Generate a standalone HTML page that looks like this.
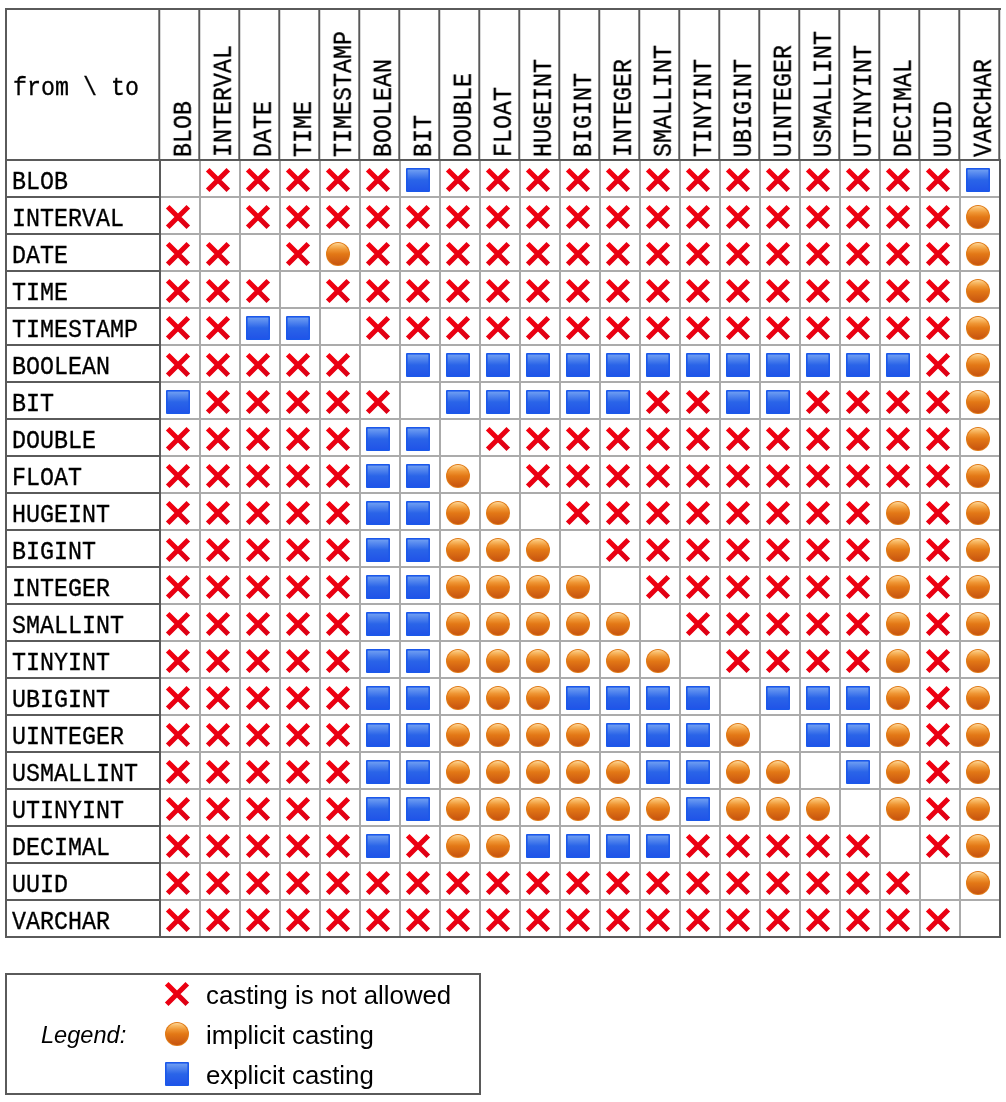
<!DOCTYPE html>
<html><head><meta charset="utf-8">
<style>
html,body{margin:0;padding:0;background:#fff;}
body{width:1006px;height:1102px;position:relative;overflow:hidden;}
.t{position:absolute;font-family:"Liberation Mono",monospace;font-size:23.33px;line-height:1;color:#000;white-space:pre;transform-origin:0 0;will-change:transform;-webkit-text-stroke:0.3px #000;}
.l{position:absolute;font-family:"Liberation Sans",sans-serif;font-size:25.8px;line-height:1;color:#000;white-space:pre;will-change:transform;}
svg{position:absolute;left:0;top:0;}
</style></head><body>

<svg width="1006" height="1102" viewBox="0 0 1006 1102">
<defs>
<linearGradient id="gx" x1="0" y1="0" x2="1" y2="1">
<stop offset="0" stop-color="#f6000f"/><stop offset="1" stop-color="#dc0015"/></linearGradient>
<linearGradient id="go" x1="0" y1="0" x2="0" y2="1">
<stop offset="0" stop-color="#fcd79e"/><stop offset="0.1" stop-color="#f9bd6a"/><stop offset="0.3" stop-color="#ef9533"/><stop offset="0.5" stop-color="#e37816"/><stop offset="1" stop-color="#c75410"/></linearGradient>
<linearGradient id="gs" x1="0" y1="0" x2="0" y2="1">
<stop offset="0" stop-color="#6f9ef2"/><stop offset="0.5" stop-color="#2a64e8"/><stop offset="1" stop-color="#2154e8"/></linearGradient>
<g id="X"><path d="M1.7 1.7L22.3 22.3M22.3 1.7L1.7 22.3" stroke="url(#gx)" stroke-width="5.1" fill="none"/></g>
<g id="O"><circle cx="12" cy="12" r="12" fill="#e07a16"/><circle cx="12" cy="12" r="10.9" fill="url(#go)"/></g>
<g id="S"><rect x="0" y="0" width="24" height="24" rx="1" fill="#1b58ea"/><rect x="1.6" y="1.6" width="20.8" height="20.8" fill="url(#gs)"/></g>
</defs>
<rect x="160" y="196" width="840" height="2" fill="#ababab"/>
<rect x="160" y="233" width="840" height="2" fill="#ababab"/>
<rect x="160" y="270" width="840" height="2" fill="#ababab"/>
<rect x="160" y="307" width="840" height="2" fill="#ababab"/>
<rect x="160" y="344" width="840" height="2" fill="#ababab"/>
<rect x="160" y="381" width="840" height="2" fill="#ababab"/>
<rect x="160" y="418" width="840" height="2" fill="#ababab"/>
<rect x="160" y="455" width="840" height="2" fill="#ababab"/>
<rect x="160" y="492" width="840" height="2" fill="#ababab"/>
<rect x="160" y="529" width="840" height="2" fill="#ababab"/>
<rect x="160" y="566" width="840" height="2" fill="#ababab"/>
<rect x="160" y="603" width="840" height="2" fill="#ababab"/>
<rect x="160" y="640" width="840" height="2" fill="#ababab"/>
<rect x="160" y="677" width="840" height="2" fill="#ababab"/>
<rect x="160" y="714" width="840" height="2" fill="#ababab"/>
<rect x="160" y="751" width="840" height="2" fill="#ababab"/>
<rect x="160" y="788" width="840" height="2" fill="#ababab"/>
<rect x="160" y="825" width="840" height="2" fill="#ababab"/>
<rect x="160" y="862" width="840" height="2" fill="#ababab"/>
<rect x="160" y="899" width="840" height="2" fill="#ababab"/>
<rect x="199" y="160" width="2" height="777" fill="#ababab"/>
<rect x="239" y="160" width="2" height="777" fill="#ababab"/>
<rect x="279" y="160" width="2" height="777" fill="#ababab"/>
<rect x="319" y="160" width="2" height="777" fill="#ababab"/>
<rect x="359" y="160" width="2" height="777" fill="#ababab"/>
<rect x="399" y="160" width="2" height="777" fill="#ababab"/>
<rect x="439" y="160" width="2" height="777" fill="#ababab"/>
<rect x="479" y="160" width="2" height="777" fill="#ababab"/>
<rect x="519" y="160" width="2" height="777" fill="#ababab"/>
<rect x="559" y="160" width="2" height="777" fill="#ababab"/>
<rect x="599" y="160" width="2" height="777" fill="#ababab"/>
<rect x="639" y="160" width="2" height="777" fill="#ababab"/>
<rect x="679" y="160" width="2" height="777" fill="#ababab"/>
<rect x="719" y="160" width="2" height="777" fill="#ababab"/>
<rect x="759" y="160" width="2" height="777" fill="#ababab"/>
<rect x="799" y="160" width="2" height="777" fill="#ababab"/>
<rect x="839" y="160" width="2" height="777" fill="#ababab"/>
<rect x="879" y="160" width="2" height="777" fill="#ababab"/>
<rect x="919" y="160" width="2" height="777" fill="#ababab"/>
<rect x="959" y="160" width="2" height="777" fill="#ababab"/>
<rect x="5" y="159" width="996" height="2" fill="#5a5a5a"/>
<rect x="5" y="196" width="155" height="2" fill="#5a5a5a"/>
<rect x="5" y="233" width="155" height="2" fill="#5a5a5a"/>
<rect x="5" y="270" width="155" height="2" fill="#5a5a5a"/>
<rect x="5" y="307" width="155" height="2" fill="#5a5a5a"/>
<rect x="5" y="344" width="155" height="2" fill="#5a5a5a"/>
<rect x="5" y="381" width="155" height="2" fill="#5a5a5a"/>
<rect x="5" y="418" width="155" height="2" fill="#5a5a5a"/>
<rect x="5" y="455" width="155" height="2" fill="#5a5a5a"/>
<rect x="5" y="492" width="155" height="2" fill="#5a5a5a"/>
<rect x="5" y="529" width="155" height="2" fill="#5a5a5a"/>
<rect x="5" y="566" width="155" height="2" fill="#5a5a5a"/>
<rect x="5" y="603" width="155" height="2" fill="#5a5a5a"/>
<rect x="5" y="640" width="155" height="2" fill="#5a5a5a"/>
<rect x="5" y="677" width="155" height="2" fill="#5a5a5a"/>
<rect x="5" y="714" width="155" height="2" fill="#5a5a5a"/>
<rect x="5" y="751" width="155" height="2" fill="#5a5a5a"/>
<rect x="5" y="788" width="155" height="2" fill="#5a5a5a"/>
<rect x="5" y="825" width="155" height="2" fill="#5a5a5a"/>
<rect x="5" y="862" width="155" height="2" fill="#5a5a5a"/>
<rect x="5" y="899" width="155" height="2" fill="#5a5a5a"/>
<rect x="5" y="936" width="996" height="2" fill="#5a5a5a"/>
<rect x="158" y="10" width="1" height="149" fill="#8a8a8a"/>
<rect x="159" y="10" width="1" height="149" fill="#585858"/>
<rect x="160" y="10" width="1" height="149" fill="#d8d8d8"/>
<rect x="198" y="10" width="1" height="149" fill="#8a8a8a"/>
<rect x="199" y="10" width="1" height="149" fill="#585858"/>
<rect x="200" y="10" width="1" height="149" fill="#d8d8d8"/>
<rect x="238" y="10" width="1" height="149" fill="#8a8a8a"/>
<rect x="239" y="10" width="1" height="149" fill="#585858"/>
<rect x="240" y="10" width="1" height="149" fill="#d8d8d8"/>
<rect x="278" y="10" width="1" height="149" fill="#8a8a8a"/>
<rect x="279" y="10" width="1" height="149" fill="#585858"/>
<rect x="280" y="10" width="1" height="149" fill="#d8d8d8"/>
<rect x="318" y="10" width="1" height="149" fill="#8a8a8a"/>
<rect x="319" y="10" width="1" height="149" fill="#585858"/>
<rect x="320" y="10" width="1" height="149" fill="#d8d8d8"/>
<rect x="358" y="10" width="1" height="149" fill="#8a8a8a"/>
<rect x="359" y="10" width="1" height="149" fill="#585858"/>
<rect x="360" y="10" width="1" height="149" fill="#d8d8d8"/>
<rect x="398" y="10" width="1" height="149" fill="#8a8a8a"/>
<rect x="399" y="10" width="1" height="149" fill="#585858"/>
<rect x="400" y="10" width="1" height="149" fill="#d8d8d8"/>
<rect x="438" y="10" width="1" height="149" fill="#8a8a8a"/>
<rect x="439" y="10" width="1" height="149" fill="#585858"/>
<rect x="440" y="10" width="1" height="149" fill="#d8d8d8"/>
<rect x="478" y="10" width="1" height="149" fill="#8a8a8a"/>
<rect x="479" y="10" width="1" height="149" fill="#585858"/>
<rect x="480" y="10" width="1" height="149" fill="#d8d8d8"/>
<rect x="518" y="10" width="1" height="149" fill="#8a8a8a"/>
<rect x="519" y="10" width="1" height="149" fill="#585858"/>
<rect x="520" y="10" width="1" height="149" fill="#d8d8d8"/>
<rect x="558" y="10" width="1" height="149" fill="#8a8a8a"/>
<rect x="559" y="10" width="1" height="149" fill="#585858"/>
<rect x="560" y="10" width="1" height="149" fill="#d8d8d8"/>
<rect x="598" y="10" width="1" height="149" fill="#8a8a8a"/>
<rect x="599" y="10" width="1" height="149" fill="#585858"/>
<rect x="600" y="10" width="1" height="149" fill="#d8d8d8"/>
<rect x="638" y="10" width="1" height="149" fill="#8a8a8a"/>
<rect x="639" y="10" width="1" height="149" fill="#585858"/>
<rect x="640" y="10" width="1" height="149" fill="#d8d8d8"/>
<rect x="678" y="10" width="1" height="149" fill="#8a8a8a"/>
<rect x="679" y="10" width="1" height="149" fill="#585858"/>
<rect x="680" y="10" width="1" height="149" fill="#d8d8d8"/>
<rect x="718" y="10" width="1" height="149" fill="#8a8a8a"/>
<rect x="719" y="10" width="1" height="149" fill="#585858"/>
<rect x="720" y="10" width="1" height="149" fill="#d8d8d8"/>
<rect x="758" y="10" width="1" height="149" fill="#8a8a8a"/>
<rect x="759" y="10" width="1" height="149" fill="#585858"/>
<rect x="760" y="10" width="1" height="149" fill="#d8d8d8"/>
<rect x="798" y="10" width="1" height="149" fill="#8a8a8a"/>
<rect x="799" y="10" width="1" height="149" fill="#585858"/>
<rect x="800" y="10" width="1" height="149" fill="#d8d8d8"/>
<rect x="838" y="10" width="1" height="149" fill="#8a8a8a"/>
<rect x="839" y="10" width="1" height="149" fill="#585858"/>
<rect x="840" y="10" width="1" height="149" fill="#d8d8d8"/>
<rect x="878" y="10" width="1" height="149" fill="#8a8a8a"/>
<rect x="879" y="10" width="1" height="149" fill="#585858"/>
<rect x="880" y="10" width="1" height="149" fill="#d8d8d8"/>
<rect x="918" y="10" width="1" height="149" fill="#8a8a8a"/>
<rect x="919" y="10" width="1" height="149" fill="#585858"/>
<rect x="920" y="10" width="1" height="149" fill="#d8d8d8"/>
<rect x="958" y="10" width="1" height="149" fill="#8a8a8a"/>
<rect x="959" y="10" width="1" height="149" fill="#585858"/>
<rect x="960" y="10" width="1" height="149" fill="#d8d8d8"/>
<rect x="998" y="10" width="1" height="149" fill="#8a8a8a"/>
<rect x="999" y="10" width="1" height="149" fill="#585858"/>
<rect x="1000" y="10" width="1" height="149" fill="#d8d8d8"/>
<rect x="159" y="159" width="2" height="779" fill="#5a5a5a"/>
<rect x="999" y="159" width="2" height="779" fill="#5a5a5a"/>
<rect x="5" y="8" width="996" height="2" fill="#5a5a5a"/>
<rect x="5" y="8" width="2" height="930" fill="#5a5a5a"/>
<use href="#X" x="206" y="168"/>
<use href="#X" x="246" y="168"/>
<use href="#X" x="286" y="168"/>
<use href="#X" x="326" y="168"/>
<use href="#X" x="366" y="168"/>
<use href="#S" x="406" y="168"/>
<use href="#X" x="446" y="168"/>
<use href="#X" x="486" y="168"/>
<use href="#X" x="526" y="168"/>
<use href="#X" x="566" y="168"/>
<use href="#X" x="606" y="168"/>
<use href="#X" x="646" y="168"/>
<use href="#X" x="686" y="168"/>
<use href="#X" x="726" y="168"/>
<use href="#X" x="766" y="168"/>
<use href="#X" x="806" y="168"/>
<use href="#X" x="846" y="168"/>
<use href="#X" x="886" y="168"/>
<use href="#X" x="926" y="168"/>
<use href="#S" x="966" y="168"/>
<use href="#X" x="166" y="205"/>
<use href="#X" x="246" y="205"/>
<use href="#X" x="286" y="205"/>
<use href="#X" x="326" y="205"/>
<use href="#X" x="366" y="205"/>
<use href="#X" x="406" y="205"/>
<use href="#X" x="446" y="205"/>
<use href="#X" x="486" y="205"/>
<use href="#X" x="526" y="205"/>
<use href="#X" x="566" y="205"/>
<use href="#X" x="606" y="205"/>
<use href="#X" x="646" y="205"/>
<use href="#X" x="686" y="205"/>
<use href="#X" x="726" y="205"/>
<use href="#X" x="766" y="205"/>
<use href="#X" x="806" y="205"/>
<use href="#X" x="846" y="205"/>
<use href="#X" x="886" y="205"/>
<use href="#X" x="926" y="205"/>
<use href="#O" x="966" y="205"/>
<use href="#X" x="166" y="242"/>
<use href="#X" x="206" y="242"/>
<use href="#X" x="286" y="242"/>
<use href="#O" x="326" y="242"/>
<use href="#X" x="366" y="242"/>
<use href="#X" x="406" y="242"/>
<use href="#X" x="446" y="242"/>
<use href="#X" x="486" y="242"/>
<use href="#X" x="526" y="242"/>
<use href="#X" x="566" y="242"/>
<use href="#X" x="606" y="242"/>
<use href="#X" x="646" y="242"/>
<use href="#X" x="686" y="242"/>
<use href="#X" x="726" y="242"/>
<use href="#X" x="766" y="242"/>
<use href="#X" x="806" y="242"/>
<use href="#X" x="846" y="242"/>
<use href="#X" x="886" y="242"/>
<use href="#X" x="926" y="242"/>
<use href="#O" x="966" y="242"/>
<use href="#X" x="166" y="279"/>
<use href="#X" x="206" y="279"/>
<use href="#X" x="246" y="279"/>
<use href="#X" x="326" y="279"/>
<use href="#X" x="366" y="279"/>
<use href="#X" x="406" y="279"/>
<use href="#X" x="446" y="279"/>
<use href="#X" x="486" y="279"/>
<use href="#X" x="526" y="279"/>
<use href="#X" x="566" y="279"/>
<use href="#X" x="606" y="279"/>
<use href="#X" x="646" y="279"/>
<use href="#X" x="686" y="279"/>
<use href="#X" x="726" y="279"/>
<use href="#X" x="766" y="279"/>
<use href="#X" x="806" y="279"/>
<use href="#X" x="846" y="279"/>
<use href="#X" x="886" y="279"/>
<use href="#X" x="926" y="279"/>
<use href="#O" x="966" y="279"/>
<use href="#X" x="166" y="316"/>
<use href="#X" x="206" y="316"/>
<use href="#S" x="246" y="316"/>
<use href="#S" x="286" y="316"/>
<use href="#X" x="366" y="316"/>
<use href="#X" x="406" y="316"/>
<use href="#X" x="446" y="316"/>
<use href="#X" x="486" y="316"/>
<use href="#X" x="526" y="316"/>
<use href="#X" x="566" y="316"/>
<use href="#X" x="606" y="316"/>
<use href="#X" x="646" y="316"/>
<use href="#X" x="686" y="316"/>
<use href="#X" x="726" y="316"/>
<use href="#X" x="766" y="316"/>
<use href="#X" x="806" y="316"/>
<use href="#X" x="846" y="316"/>
<use href="#X" x="886" y="316"/>
<use href="#X" x="926" y="316"/>
<use href="#O" x="966" y="316"/>
<use href="#X" x="166" y="353"/>
<use href="#X" x="206" y="353"/>
<use href="#X" x="246" y="353"/>
<use href="#X" x="286" y="353"/>
<use href="#X" x="326" y="353"/>
<use href="#S" x="406" y="353"/>
<use href="#S" x="446" y="353"/>
<use href="#S" x="486" y="353"/>
<use href="#S" x="526" y="353"/>
<use href="#S" x="566" y="353"/>
<use href="#S" x="606" y="353"/>
<use href="#S" x="646" y="353"/>
<use href="#S" x="686" y="353"/>
<use href="#S" x="726" y="353"/>
<use href="#S" x="766" y="353"/>
<use href="#S" x="806" y="353"/>
<use href="#S" x="846" y="353"/>
<use href="#S" x="886" y="353"/>
<use href="#X" x="926" y="353"/>
<use href="#O" x="966" y="353"/>
<use href="#S" x="166" y="390"/>
<use href="#X" x="206" y="390"/>
<use href="#X" x="246" y="390"/>
<use href="#X" x="286" y="390"/>
<use href="#X" x="326" y="390"/>
<use href="#X" x="366" y="390"/>
<use href="#S" x="446" y="390"/>
<use href="#S" x="486" y="390"/>
<use href="#S" x="526" y="390"/>
<use href="#S" x="566" y="390"/>
<use href="#S" x="606" y="390"/>
<use href="#X" x="646" y="390"/>
<use href="#X" x="686" y="390"/>
<use href="#S" x="726" y="390"/>
<use href="#S" x="766" y="390"/>
<use href="#X" x="806" y="390"/>
<use href="#X" x="846" y="390"/>
<use href="#X" x="886" y="390"/>
<use href="#X" x="926" y="390"/>
<use href="#O" x="966" y="390"/>
<use href="#X" x="166" y="427"/>
<use href="#X" x="206" y="427"/>
<use href="#X" x="246" y="427"/>
<use href="#X" x="286" y="427"/>
<use href="#X" x="326" y="427"/>
<use href="#S" x="366" y="427"/>
<use href="#S" x="406" y="427"/>
<use href="#X" x="486" y="427"/>
<use href="#X" x="526" y="427"/>
<use href="#X" x="566" y="427"/>
<use href="#X" x="606" y="427"/>
<use href="#X" x="646" y="427"/>
<use href="#X" x="686" y="427"/>
<use href="#X" x="726" y="427"/>
<use href="#X" x="766" y="427"/>
<use href="#X" x="806" y="427"/>
<use href="#X" x="846" y="427"/>
<use href="#X" x="886" y="427"/>
<use href="#X" x="926" y="427"/>
<use href="#O" x="966" y="427"/>
<use href="#X" x="166" y="464"/>
<use href="#X" x="206" y="464"/>
<use href="#X" x="246" y="464"/>
<use href="#X" x="286" y="464"/>
<use href="#X" x="326" y="464"/>
<use href="#S" x="366" y="464"/>
<use href="#S" x="406" y="464"/>
<use href="#O" x="446" y="464"/>
<use href="#X" x="526" y="464"/>
<use href="#X" x="566" y="464"/>
<use href="#X" x="606" y="464"/>
<use href="#X" x="646" y="464"/>
<use href="#X" x="686" y="464"/>
<use href="#X" x="726" y="464"/>
<use href="#X" x="766" y="464"/>
<use href="#X" x="806" y="464"/>
<use href="#X" x="846" y="464"/>
<use href="#X" x="886" y="464"/>
<use href="#X" x="926" y="464"/>
<use href="#O" x="966" y="464"/>
<use href="#X" x="166" y="501"/>
<use href="#X" x="206" y="501"/>
<use href="#X" x="246" y="501"/>
<use href="#X" x="286" y="501"/>
<use href="#X" x="326" y="501"/>
<use href="#S" x="366" y="501"/>
<use href="#S" x="406" y="501"/>
<use href="#O" x="446" y="501"/>
<use href="#O" x="486" y="501"/>
<use href="#X" x="566" y="501"/>
<use href="#X" x="606" y="501"/>
<use href="#X" x="646" y="501"/>
<use href="#X" x="686" y="501"/>
<use href="#X" x="726" y="501"/>
<use href="#X" x="766" y="501"/>
<use href="#X" x="806" y="501"/>
<use href="#X" x="846" y="501"/>
<use href="#O" x="886" y="501"/>
<use href="#X" x="926" y="501"/>
<use href="#O" x="966" y="501"/>
<use href="#X" x="166" y="538"/>
<use href="#X" x="206" y="538"/>
<use href="#X" x="246" y="538"/>
<use href="#X" x="286" y="538"/>
<use href="#X" x="326" y="538"/>
<use href="#S" x="366" y="538"/>
<use href="#S" x="406" y="538"/>
<use href="#O" x="446" y="538"/>
<use href="#O" x="486" y="538"/>
<use href="#O" x="526" y="538"/>
<use href="#X" x="606" y="538"/>
<use href="#X" x="646" y="538"/>
<use href="#X" x="686" y="538"/>
<use href="#X" x="726" y="538"/>
<use href="#X" x="766" y="538"/>
<use href="#X" x="806" y="538"/>
<use href="#X" x="846" y="538"/>
<use href="#O" x="886" y="538"/>
<use href="#X" x="926" y="538"/>
<use href="#O" x="966" y="538"/>
<use href="#X" x="166" y="575"/>
<use href="#X" x="206" y="575"/>
<use href="#X" x="246" y="575"/>
<use href="#X" x="286" y="575"/>
<use href="#X" x="326" y="575"/>
<use href="#S" x="366" y="575"/>
<use href="#S" x="406" y="575"/>
<use href="#O" x="446" y="575"/>
<use href="#O" x="486" y="575"/>
<use href="#O" x="526" y="575"/>
<use href="#O" x="566" y="575"/>
<use href="#X" x="646" y="575"/>
<use href="#X" x="686" y="575"/>
<use href="#X" x="726" y="575"/>
<use href="#X" x="766" y="575"/>
<use href="#X" x="806" y="575"/>
<use href="#X" x="846" y="575"/>
<use href="#O" x="886" y="575"/>
<use href="#X" x="926" y="575"/>
<use href="#O" x="966" y="575"/>
<use href="#X" x="166" y="612"/>
<use href="#X" x="206" y="612"/>
<use href="#X" x="246" y="612"/>
<use href="#X" x="286" y="612"/>
<use href="#X" x="326" y="612"/>
<use href="#S" x="366" y="612"/>
<use href="#S" x="406" y="612"/>
<use href="#O" x="446" y="612"/>
<use href="#O" x="486" y="612"/>
<use href="#O" x="526" y="612"/>
<use href="#O" x="566" y="612"/>
<use href="#O" x="606" y="612"/>
<use href="#X" x="686" y="612"/>
<use href="#X" x="726" y="612"/>
<use href="#X" x="766" y="612"/>
<use href="#X" x="806" y="612"/>
<use href="#X" x="846" y="612"/>
<use href="#O" x="886" y="612"/>
<use href="#X" x="926" y="612"/>
<use href="#O" x="966" y="612"/>
<use href="#X" x="166" y="649"/>
<use href="#X" x="206" y="649"/>
<use href="#X" x="246" y="649"/>
<use href="#X" x="286" y="649"/>
<use href="#X" x="326" y="649"/>
<use href="#S" x="366" y="649"/>
<use href="#S" x="406" y="649"/>
<use href="#O" x="446" y="649"/>
<use href="#O" x="486" y="649"/>
<use href="#O" x="526" y="649"/>
<use href="#O" x="566" y="649"/>
<use href="#O" x="606" y="649"/>
<use href="#O" x="646" y="649"/>
<use href="#X" x="726" y="649"/>
<use href="#X" x="766" y="649"/>
<use href="#X" x="806" y="649"/>
<use href="#X" x="846" y="649"/>
<use href="#O" x="886" y="649"/>
<use href="#X" x="926" y="649"/>
<use href="#O" x="966" y="649"/>
<use href="#X" x="166" y="686"/>
<use href="#X" x="206" y="686"/>
<use href="#X" x="246" y="686"/>
<use href="#X" x="286" y="686"/>
<use href="#X" x="326" y="686"/>
<use href="#S" x="366" y="686"/>
<use href="#S" x="406" y="686"/>
<use href="#O" x="446" y="686"/>
<use href="#O" x="486" y="686"/>
<use href="#O" x="526" y="686"/>
<use href="#S" x="566" y="686"/>
<use href="#S" x="606" y="686"/>
<use href="#S" x="646" y="686"/>
<use href="#S" x="686" y="686"/>
<use href="#S" x="766" y="686"/>
<use href="#S" x="806" y="686"/>
<use href="#S" x="846" y="686"/>
<use href="#O" x="886" y="686"/>
<use href="#X" x="926" y="686"/>
<use href="#O" x="966" y="686"/>
<use href="#X" x="166" y="723"/>
<use href="#X" x="206" y="723"/>
<use href="#X" x="246" y="723"/>
<use href="#X" x="286" y="723"/>
<use href="#X" x="326" y="723"/>
<use href="#S" x="366" y="723"/>
<use href="#S" x="406" y="723"/>
<use href="#O" x="446" y="723"/>
<use href="#O" x="486" y="723"/>
<use href="#O" x="526" y="723"/>
<use href="#O" x="566" y="723"/>
<use href="#S" x="606" y="723"/>
<use href="#S" x="646" y="723"/>
<use href="#S" x="686" y="723"/>
<use href="#O" x="726" y="723"/>
<use href="#S" x="806" y="723"/>
<use href="#S" x="846" y="723"/>
<use href="#O" x="886" y="723"/>
<use href="#X" x="926" y="723"/>
<use href="#O" x="966" y="723"/>
<use href="#X" x="166" y="760"/>
<use href="#X" x="206" y="760"/>
<use href="#X" x="246" y="760"/>
<use href="#X" x="286" y="760"/>
<use href="#X" x="326" y="760"/>
<use href="#S" x="366" y="760"/>
<use href="#S" x="406" y="760"/>
<use href="#O" x="446" y="760"/>
<use href="#O" x="486" y="760"/>
<use href="#O" x="526" y="760"/>
<use href="#O" x="566" y="760"/>
<use href="#O" x="606" y="760"/>
<use href="#S" x="646" y="760"/>
<use href="#S" x="686" y="760"/>
<use href="#O" x="726" y="760"/>
<use href="#O" x="766" y="760"/>
<use href="#S" x="846" y="760"/>
<use href="#O" x="886" y="760"/>
<use href="#X" x="926" y="760"/>
<use href="#O" x="966" y="760"/>
<use href="#X" x="166" y="797"/>
<use href="#X" x="206" y="797"/>
<use href="#X" x="246" y="797"/>
<use href="#X" x="286" y="797"/>
<use href="#X" x="326" y="797"/>
<use href="#S" x="366" y="797"/>
<use href="#S" x="406" y="797"/>
<use href="#O" x="446" y="797"/>
<use href="#O" x="486" y="797"/>
<use href="#O" x="526" y="797"/>
<use href="#O" x="566" y="797"/>
<use href="#O" x="606" y="797"/>
<use href="#O" x="646" y="797"/>
<use href="#S" x="686" y="797"/>
<use href="#O" x="726" y="797"/>
<use href="#O" x="766" y="797"/>
<use href="#O" x="806" y="797"/>
<use href="#O" x="886" y="797"/>
<use href="#X" x="926" y="797"/>
<use href="#O" x="966" y="797"/>
<use href="#X" x="166" y="834"/>
<use href="#X" x="206" y="834"/>
<use href="#X" x="246" y="834"/>
<use href="#X" x="286" y="834"/>
<use href="#X" x="326" y="834"/>
<use href="#S" x="366" y="834"/>
<use href="#X" x="406" y="834"/>
<use href="#O" x="446" y="834"/>
<use href="#O" x="486" y="834"/>
<use href="#S" x="526" y="834"/>
<use href="#S" x="566" y="834"/>
<use href="#S" x="606" y="834"/>
<use href="#S" x="646" y="834"/>
<use href="#X" x="686" y="834"/>
<use href="#X" x="726" y="834"/>
<use href="#X" x="766" y="834"/>
<use href="#X" x="806" y="834"/>
<use href="#X" x="846" y="834"/>
<use href="#X" x="926" y="834"/>
<use href="#O" x="966" y="834"/>
<use href="#X" x="166" y="871"/>
<use href="#X" x="206" y="871"/>
<use href="#X" x="246" y="871"/>
<use href="#X" x="286" y="871"/>
<use href="#X" x="326" y="871"/>
<use href="#X" x="366" y="871"/>
<use href="#X" x="406" y="871"/>
<use href="#X" x="446" y="871"/>
<use href="#X" x="486" y="871"/>
<use href="#X" x="526" y="871"/>
<use href="#X" x="566" y="871"/>
<use href="#X" x="606" y="871"/>
<use href="#X" x="646" y="871"/>
<use href="#X" x="686" y="871"/>
<use href="#X" x="726" y="871"/>
<use href="#X" x="766" y="871"/>
<use href="#X" x="806" y="871"/>
<use href="#X" x="846" y="871"/>
<use href="#X" x="886" y="871"/>
<use href="#O" x="966" y="871"/>
<use href="#X" x="166" y="908"/>
<use href="#X" x="206" y="908"/>
<use href="#X" x="246" y="908"/>
<use href="#X" x="286" y="908"/>
<use href="#X" x="326" y="908"/>
<use href="#X" x="366" y="908"/>
<use href="#X" x="406" y="908"/>
<use href="#X" x="446" y="908"/>
<use href="#X" x="486" y="908"/>
<use href="#X" x="526" y="908"/>
<use href="#X" x="566" y="908"/>
<use href="#X" x="606" y="908"/>
<use href="#X" x="646" y="908"/>
<use href="#X" x="686" y="908"/>
<use href="#X" x="726" y="908"/>
<use href="#X" x="766" y="908"/>
<use href="#X" x="806" y="908"/>
<use href="#X" x="846" y="908"/>
<use href="#X" x="886" y="908"/>
<use href="#X" x="926" y="908"/>
<rect x="5" y="973" width="476" height="2" fill="#5a5a5a"/>
<rect x="5" y="1093" width="476" height="2" fill="#5a5a5a"/>
<rect x="5" y="973" width="2" height="122" fill="#5a5a5a"/>
<rect x="479" y="973" width="2" height="122" fill="#5a5a5a"/>
<use href="#X" x="165" y="982"/>
<use href="#O" x="165" y="1022"/>
<use href="#S" x="165" y="1062"/>
</svg>
<div class="t" style="left:12px;top:170px;transform:scale(1,1.1)">BLOB</div>
<div class="t" style="left:12px;top:207px;transform:scale(1,1.1)">INTERVAL</div>
<div class="t" style="left:12px;top:244px;transform:scale(1,1.1)">DATE</div>
<div class="t" style="left:12px;top:281px;transform:scale(1,1.1)">TIME</div>
<div class="t" style="left:12px;top:318px;transform:scale(1,1.1)">TIMESTAMP</div>
<div class="t" style="left:12px;top:355px;transform:scale(1,1.1)">BOOLEAN</div>
<div class="t" style="left:12px;top:392px;transform:scale(1,1.1)">BIT</div>
<div class="t" style="left:12px;top:429px;transform:scale(1,1.1)">DOUBLE</div>
<div class="t" style="left:12px;top:466px;transform:scale(1,1.1)">FLOAT</div>
<div class="t" style="left:12px;top:503px;transform:scale(1,1.1)">HUGEINT</div>
<div class="t" style="left:12px;top:540px;transform:scale(1,1.1)">BIGINT</div>
<div class="t" style="left:12px;top:577px;transform:scale(1,1.1)">INTEGER</div>
<div class="t" style="left:12px;top:614px;transform:scale(1,1.1)">SMALLINT</div>
<div class="t" style="left:12px;top:651px;transform:scale(1,1.1)">TINYINT</div>
<div class="t" style="left:12px;top:688px;transform:scale(1,1.1)">UBIGINT</div>
<div class="t" style="left:12px;top:725px;transform:scale(1,1.1)">UINTEGER</div>
<div class="t" style="left:12px;top:762px;transform:scale(1,1.1)">USMALLINT</div>
<div class="t" style="left:12px;top:799px;transform:scale(1,1.1)">UTINYINT</div>
<div class="t" style="left:12px;top:836px;transform:scale(1,1.1)">DECIMAL</div>
<div class="t" style="left:12px;top:873px;transform:scale(1,1.1)">UUID</div>
<div class="t" style="left:12px;top:910px;transform:scale(1,1.1)">VARCHAR</div>
<div class="t" style="left:13px;top:75.5px;transform:scale(1,1.1)">from \ to</div>
<div class="t" style="left:172px;top:157px;transform:rotate(-90deg) scale(1,1.1)">BLOB</div>
<div class="t" style="left:212px;top:157px;transform:rotate(-90deg) scale(1,1.1)">INTERVAL</div>
<div class="t" style="left:252px;top:157px;transform:rotate(-90deg) scale(1,1.1)">DATE</div>
<div class="t" style="left:292px;top:157px;transform:rotate(-90deg) scale(1,1.1)">TIME</div>
<div class="t" style="left:332px;top:157px;transform:rotate(-90deg) scale(1,1.1)">TIMESTAMP</div>
<div class="t" style="left:372px;top:157px;transform:rotate(-90deg) scale(1,1.1)">BOOLEAN</div>
<div class="t" style="left:412px;top:157px;transform:rotate(-90deg) scale(1,1.1)">BIT</div>
<div class="t" style="left:452px;top:157px;transform:rotate(-90deg) scale(1,1.1)">DOUBLE</div>
<div class="t" style="left:492px;top:157px;transform:rotate(-90deg) scale(1,1.1)">FLOAT</div>
<div class="t" style="left:532px;top:157px;transform:rotate(-90deg) scale(1,1.1)">HUGEINT</div>
<div class="t" style="left:572px;top:157px;transform:rotate(-90deg) scale(1,1.1)">BIGINT</div>
<div class="t" style="left:612px;top:157px;transform:rotate(-90deg) scale(1,1.1)">INTEGER</div>
<div class="t" style="left:652px;top:157px;transform:rotate(-90deg) scale(1,1.1)">SMALLINT</div>
<div class="t" style="left:692px;top:157px;transform:rotate(-90deg) scale(1,1.1)">TINYINT</div>
<div class="t" style="left:732px;top:157px;transform:rotate(-90deg) scale(1,1.1)">UBIGINT</div>
<div class="t" style="left:772px;top:157px;transform:rotate(-90deg) scale(1,1.1)">UINTEGER</div>
<div class="t" style="left:812px;top:157px;transform:rotate(-90deg) scale(1,1.1)">USMALLINT</div>
<div class="t" style="left:852px;top:157px;transform:rotate(-90deg) scale(1,1.1)">UTINYINT</div>
<div class="t" style="left:892px;top:157px;transform:rotate(-90deg) scale(1,1.1)">DECIMAL</div>
<div class="t" style="left:932px;top:157px;transform:rotate(-90deg) scale(1,1.1)">UUID</div>
<div class="t" style="left:972px;top:157px;transform:rotate(-90deg) scale(1,1.1)">VARCHAR</div>
<div class="l" style="left:41px;top:1024px;font-style:italic;font-size:23.6px">Legend:</div>
<div class="l" style="left:206px;top:982.5px">casting is not allowed</div>
<div class="l" style="left:206px;top:1022.5px">implicit casting</div>
<div class="l" style="left:206px;top:1062.5px">explicit casting</div>
</body></html>
